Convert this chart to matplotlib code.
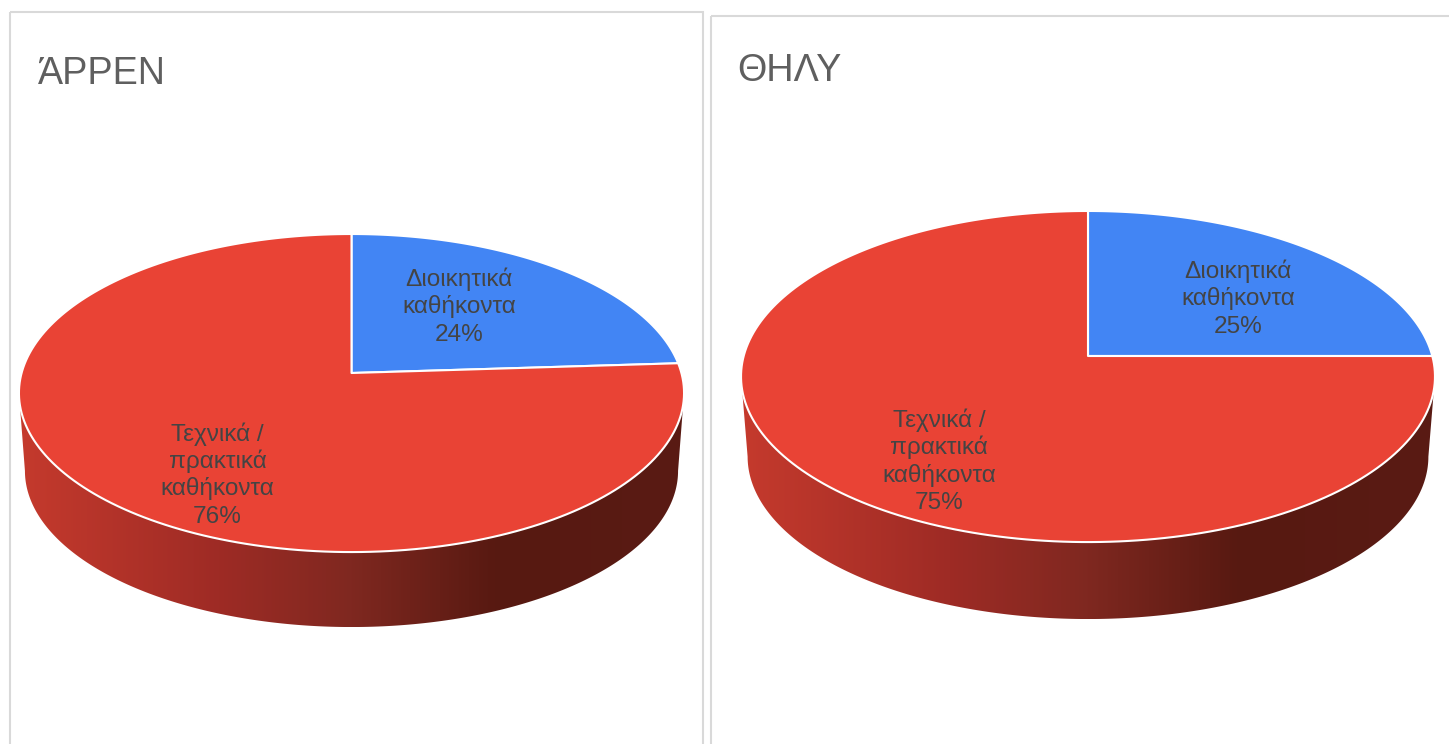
import numpy as np
import matplotlib
matplotlib.use("Agg")
import matplotlib.pyplot as plt
from matplotlib.colors import LinearSegmentedColormap
from matplotlib.patches import Polygon, Rectangle

plt.rcParams["font.family"] = ["Liberation Sans", "DejaVu Sans"]

#----------------------------- data ---------------------------------------------
categories = ["Διοικητικά\nκαθήκοντα", "Τεχνικά /\nπρακτικά\nκαθήκοντα"]
male_values = [24, 76]
female_values = [25, 75]
male_title = "ΆΡΡΕΝ"
female_title = "ΘΗΛΥ"

#----------------------------- style --------------------------------------------
slice_colors = ["#4285F4", "#E94335"]
wall_cmap = LinearSegmentedColormap.from_list("wall", [(0.0, "#C53A2D"), (0.3, "#9E2B25"), (0.5, "#7F2820"), (0.72, "#571911"), (1.0, "#5A1B14")])
W, H = 1449, 744
line_pitch = 27.4


def project(theta, x0, y0, rx, b, p):
    # perspective view of a flat disc, theta measured clockwise from the top
    u, v = np.sin(theta), np.cos(theta)
    w = 1 + p * v
    return x0 + rx * u / w, y0 - b * v / w


def draw_pie(ax, values, x0, y0, rx, b, p, depth, shrink):
    # side wall: front of the top rim joined to front of the bottom rim,
    # both taken between the points where the rim is widest on screen
    start = np.arccos(-p)
    t = np.linspace(start, 2 * np.pi - start, 300)
    xt, yt = project(t, x0, y0, rx, b, p)
    xb, yb = project(t, x0, y0 + depth, rx * shrink, b * shrink, p)
    wall = Polygon(np.r_[np.c_[xt, yt], np.c_[xb[::-1], yb[::-1]]], closed=True, fc="none", ec="none", transform=ax.transData)
    ax.add_patch(wall)
    im = ax.imshow(np.linspace(0, 1, 256)[None, :], cmap=wall_cmap, aspect="auto", extent=[xt.min(), xt.max(), yb.max(), yt.min()], zorder=1)
    im.set_clip_path(wall)

    # top face, one polygon per slice
    fractions = np.cumsum([0] + list(values)) / sum(values)
    for i in range(len(values)):
        th = 2 * np.pi * np.linspace(fractions[i], fractions[i + 1], 200)
        x, y = project(th, x0, y0, rx, b, p)
        ax.add_patch(Polygon(np.r_[[[x0, y0]], np.c_[x, y]], closed=True, fc=slice_colors[i], ec="white", lw=1.5, joinstyle="round", zorder=2))


def draw_labels(ax, values, positions):
    # one text per line: matplotlib's own line height changes with the glyphs
    for name, value, (x, y) in zip(categories, values, positions):
        lines = name.split("\n") + [f"{value}%"]
        for j, line in enumerate(lines):
            ax.text(x, y + j * line_pitch, line, ha="center", va="baseline", fontsize=17.6, color="#444444", zorder=3)


fig = plt.figure(figsize=(W / 100, H / 100), dpi=100)
ax = fig.add_axes([0, 0, 1, 1])
ax.set_xlim(0, W)
ax.set_ylim(H, 0)
ax.axis("off")

# panel borders run off the picture at the bottom/right
ax.add_patch(Rectangle((9.5, 11.5), 693.5, 760, fc="none", ec="#D9D9D9", lw=1.5))
ax.add_patch(Rectangle((711, 16), 800, 760, fc="none", ec="#D9D9D9", lw=1.5))

draw_pie(ax, male_values, 351.5, 373, 329.9, 156.5, 0.126, 78.2, 0.982)
draw_pie(ax, female_values, 1088, 356, 344.3, 163, 0.124, 80.5, 0.981)

draw_labels(ax, male_values, [(459, 286), (217.5, 440.5)])
draw_labels(ax, female_values, [(1238, 278), (939, 427)])

ax.text(38, 84, male_title, ha="left", va="baseline", fontsize=27.2, color="#5F5F5F")
ax.text(737, 81, female_title, ha="left", va="baseline", fontsize=27.2, color="#5F5F5F")

ax.set_xlim(0, W)
ax.set_ylim(H, 0)
fig.savefig("out.png", dpi=100)
